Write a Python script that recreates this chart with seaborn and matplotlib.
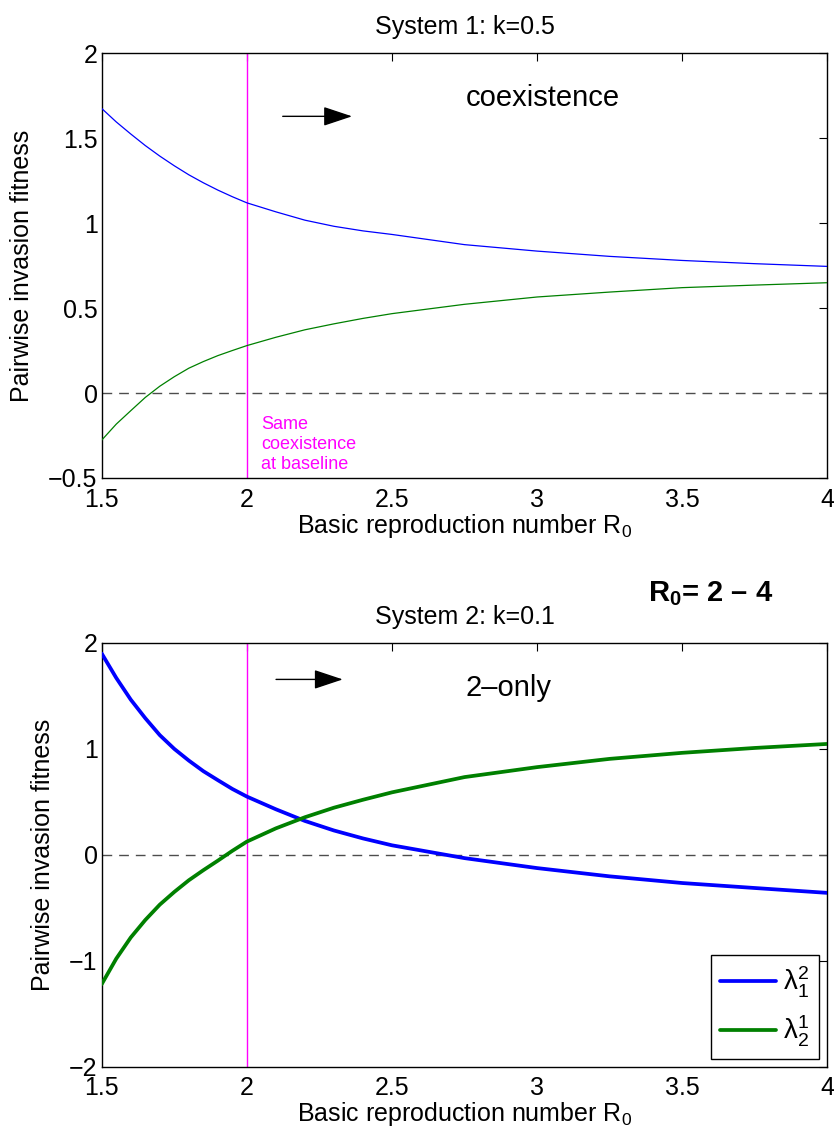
import numpy as np
import pandas as pd
import seaborn as sns
import matplotlib.pyplot as plt

# values
r0 = [1.5, 1.55, 1.6, 1.65, 1.7, 1.75, 1.8, 1.85, 1.9, 1.95, 2.0,
      2.1, 2.2, 2.3, 2.4, 2.5, 2.75, 3.0, 3.25, 3.5, 3.75, 4.0]

# System 1: k=0.5
sys1_lam12 = [1.674, 1.595, 1.524, 1.456, 1.394, 1.337, 1.284, 1.237, 1.194, 1.155, 1.119,
              1.066, 1.017, 0.981, 0.954, 0.933, 0.873, 0.835, 0.804, 0.780, 0.761, 0.745]
sys1_lam21 = [-0.277, -0.183, -0.104, -0.026, 0.040, 0.096, 0.146, 0.185, 0.220, 0.250, 0.279,
              0.328, 0.372, 0.407, 0.439, 0.467, 0.522, 0.565, 0.594, 0.620, 0.635, 0.649]

# System 2: k=0.1
sys2_lam12 = [1.90, 1.67, 1.465, 1.29, 1.13, 1.00, 0.89, 0.79, 0.705, 0.622, 0.550,
              0.430, 0.320, 0.230, 0.155, 0.090, -0.031, -0.125, -0.203, -0.266, -0.313, -0.359]
sys2_lam21 = [-1.22, -0.98, -0.78, -0.615, -0.47, -0.35, -0.24, -0.145, -0.055, 0.038, 0.125,
              0.250, 0.355, 0.445, 0.520, 0.590, 0.734, 0.828, 0.906, 0.963, 1.009, 1.047]

x_ticks = [1.5, 2, 2.5, 3, 3.5, 4]
x_ticklabels = ['1.5', '2', '2.5', '3', '3.5', '4']
y1_ticks = [-0.5, 0, 0.5, 1, 1.5, 2]
y1_ticklabels = ['\u22120.5', '0', '0.5', '1', '1.5', '2']
y2_ticks = [-2, -1, 0, 1, 2]
y2_ticklabels = ['\u22122', '\u22121', '0', '1', '2']

labels = [r'$\mathrm{\lambda}_1^2$', r'$\mathrm{\lambda}_2^1$']
colors = ['#0000ff', '#008000']

sns.set_style('white')
plt.rcParams['font.family'] = ['Liberation Sans', 'DejaVu Sans']
plt.rcParams['mathtext.fontset'] = 'custom'
plt.rcParams['mathtext.rm'] = 'Liberation Sans'
plt.rcParams['mathtext.it'] = 'Liberation Sans:italic'
plt.rcParams['mathtext.bf'] = 'Liberation Sans:bold'
plt.rcParams['text.color'] = 'k'
plt.rcParams['axes.labelcolor'] = 'k'
plt.rcParams['xtick.color'] = 'k'
plt.rcParams['ytick.color'] = 'k'

fig = plt.figure(figsize=(8.34, 11.3), dpi=100)
ax1 = fig.add_axes([0.122, 0.577, 0.870, 0.376])
ax2 = fig.add_axes([0.122, 0.056, 0.870, 0.375])


def style_axes(ax, yticks, yticklabels, ylim, title):
    ax.set_xlim(1.5, 4)
    ax.set_ylim(*ylim)
    ax.set_xticks(x_ticks)
    ax.set_xticklabels(x_ticklabels)
    ax.set_yticks(yticks)
    ax.set_yticklabels(yticklabels)
    ax.tick_params(direction='in', top=True, right=True, length=6, width=0.8,
                   labelsize=18, colors='k')
    ax.tick_params(axis='x', pad=7)
    ax.tick_params(axis='y', pad=3)
    for sp in ax.spines.values():
        sp.set_color('k')
        sp.set_linewidth(1.0)
    ax.set_xlabel(r'Basic reproduction number R$_0$', fontsize=18, labelpad=0)
    ax.set_ylabel('Pairwise invasion fitness', fontsize=18, labelpad=10)
    ax.set_title(title, fontsize=18, pad=14)
    ax.axhline(0, color='0.3', lw=1.0, ls=(0, (7, 5)), zorder=1)
    ax.axvline(2, color='#ff00ff', lw=1.0, zorder=1)


# top panel
sns.lineplot(x=r0, y=sys1_lam12, color=colors[0], lw=0.9, ax=ax1, zorder=3)
sns.lineplot(x=r0, y=sys1_lam21, color=colors[1], lw=0.9, ax=ax1, zorder=3)
style_axes(ax1, y1_ticks, y1_ticklabels, (-0.5, 2), 'System 1: k=0.5')
ax1.annotate('', xy=(2.372, 1.628), xytext=(2.114, 1.628),
             arrowprops=dict(arrowstyle='-|>,head_length=0.9,head_width=0.3',
                             color='k', lw=1.0, mutation_scale=20))
ax1.text(3.02, 1.735, 'coexistence', fontsize=21, ha='center', va='center')
ax1.text(2.05, -0.135, 'Same\ncoexistence\nat baseline', fontsize=13,
         color='#ff00ff', ha='left', va='top', linespacing=1.22)

# bottom panel
sns.lineplot(x=r0, y=sys2_lam12, color=colors[0], lw=2.7, ax=ax2, label=labels[0], zorder=3)
sns.lineplot(x=r0, y=sys2_lam21, color=colors[1], lw=2.7, ax=ax2, label=labels[1], zorder=3)
style_axes(ax2, y2_ticks, y2_ticklabels, (-2, 2), 'System 2: k=0.1')
ax2.annotate('', xy=(2.34, 1.656), xytext=(2.091, 1.656),
             arrowprops=dict(arrowstyle='-|>,head_length=0.9,head_width=0.3',
                             color='k', lw=1.0, mutation_scale=20))
ax2.text(2.903, 1.575, '2\u2013only', fontsize=21, ha='center', va='center')

handles, lbls = ax2.get_legend_handles_labels()
leg = ax2.legend(handles, lbls, loc='lower right', bbox_to_anchor=(0.988, 0.019),
                 fontsize=20, frameon=True, fancybox=False, edgecolor='k',
                 framealpha=1, handlelength=2.0, handletextpad=0.25,
                 labelspacing=0.5, borderpad=0.35, borderaxespad=0)
leg.get_frame().set_linewidth(1.0)

fig.text(648 / 834, 1 - 594 / 1130, r'$\mathbf{R_0}$= 2 ' + '\u2013' + ' 4',
         fontsize=21, fontweight='bold', ha='left', va='center')

fig.savefig('out.png', dpi=100)
